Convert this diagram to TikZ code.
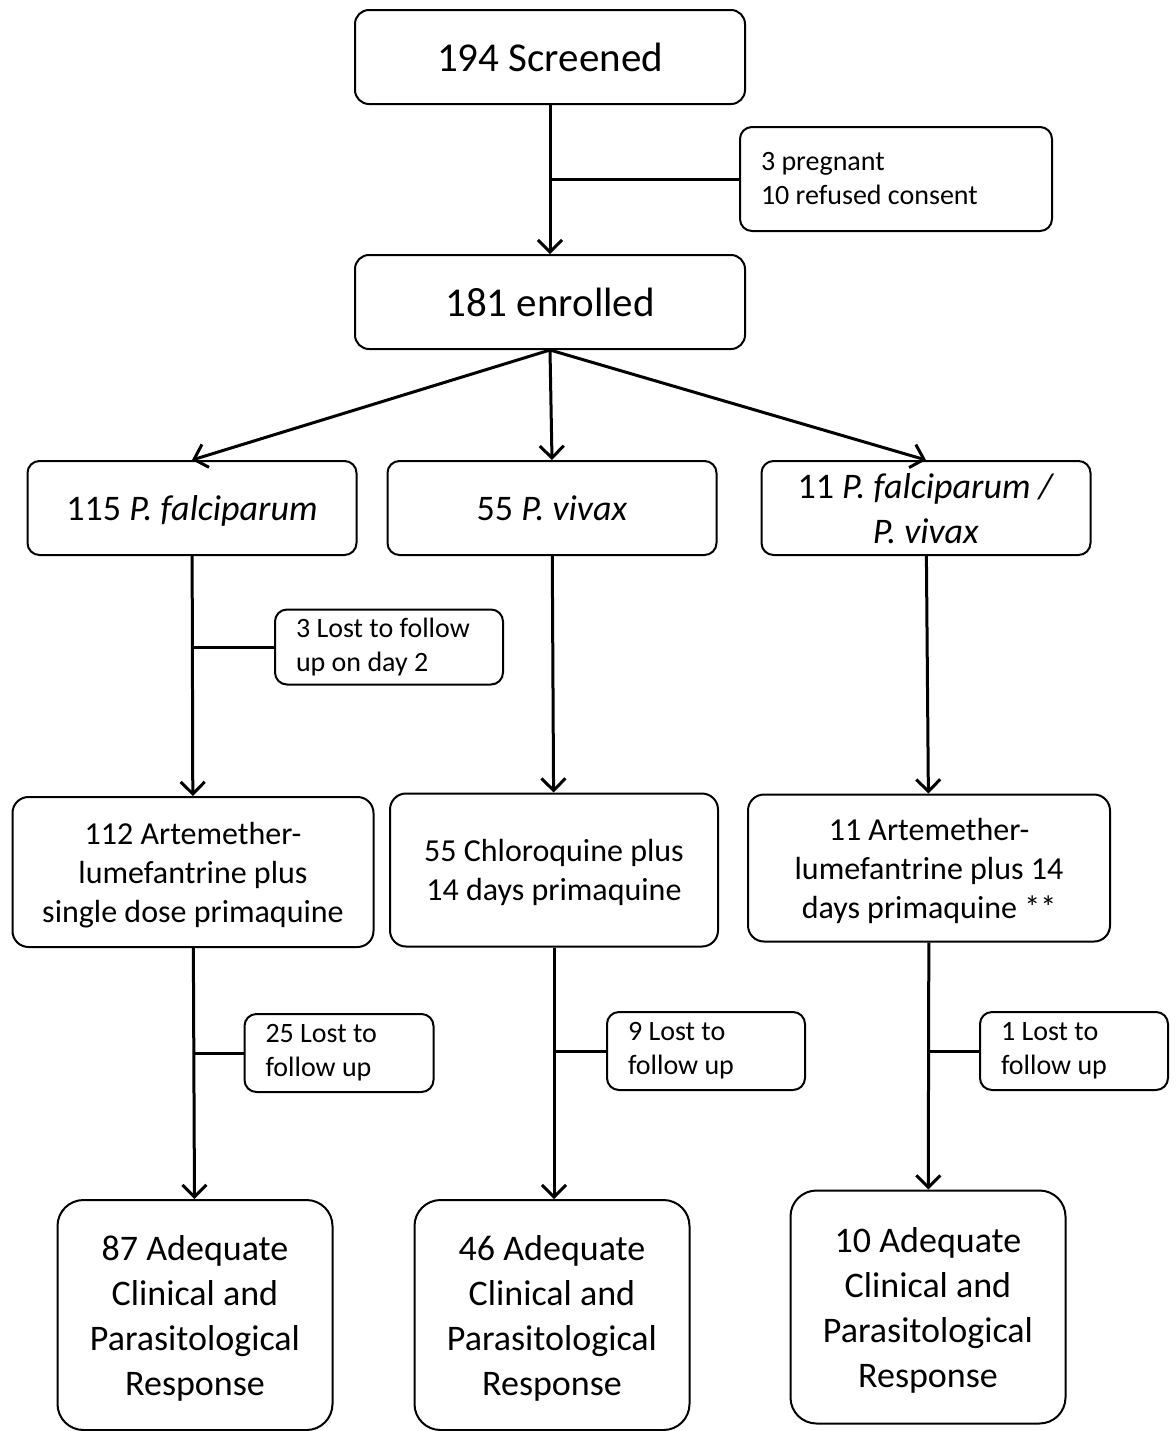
\documentclass[tikz,border=0pt]{standalone}
\usepackage{fontspec}
\setmainfont{Carlito}
\usetikzlibrary{arrows.meta}

\begin{document}
\begin{tikzpicture}[x=0.5pt,y=-0.5pt]
\tikzstyle{every node}=[draw, line width=1pt, align=center, inner sep=0pt]
\tikzstyle{headbox}=[rounded corners=7pt, minimum width=195pt, minimum height=47pt, font=\fontsize{20.5}{24}\selectfont]
\tikzstyle{armbox}=[rounded corners=6pt, minimum width=164.5pt, minimum height=47pt, text depth=0pt, font=\fontsize{18}{22.5}\selectfont]
\tikzstyle{treatbox}=[rounded corners=8pt, minimum height=75pt, text depth=0pt, font=\fontsize{16}{19.5}\selectfont]
\tikzstyle{outbox}=[rounded corners=13pt, minimum width=137.5pt, minimum height=115pt, text depth=0pt, font=\fontsize{18}{22.5}\selectfont]
\tikzstyle{sidebox}=[rounded corners=6pt, align=left, inner xsep=10.5pt, font=\fontsize{14}{17}\selectfont, execute at begin node={\spaceskip=0pt\xspaceskip=0pt\relax}]
\tikzstyle{flow}=[line width=1.5pt, -{Straight Barb[length=6pt,width=12pt]}]
\tikzstyle{link}=[line width=1.5pt]
\useasboundingbox (0,0) rectangle (1176,1431);

% top
\node[headbox] (screened) at (550,57) {194 Screened};
\node[sidebox, text width=135pt, minimum height=52pt] (refused) at (896,179) {3 pregnant\\10 refused consent};
\node[headbox] (enrolled) at (550,302) {181 enrolled};

% species
\node[armbox] (pf) at (192,508) {115 \textit{P. falciparum}};
\node[armbox] (pv) at (552,508) {55 \textit{P. vivax}};
\node[armbox] (mixed) at (926,508) {11 \textit{P. falciparum /}\\\textit{P. vivax}};
\node[sidebox, text width=93pt, minimum height=37.5pt] (lostpf) at (389,647) {3 Lost to follow\\up on day 2};

% treatment
\node[treatbox, minimum width=180.5pt] (al) at (193,872) {112 Artemether-\\lumefantrine plus\\single dose primaquine};
\node[treatbox, minimum width=164pt, minimum height=76.5pt] (cq) at (554,870) {55 Chloroquine plus\\14 days primaquine};
\node[treatbox, minimum width=181pt, minimum height=73.5pt] (alpq) at (929,868) {11 Artemether-\\lumefantrine plus 14\\days primaquine **};
\node[sidebox, text width=73.5pt, minimum height=39pt] (lostal) at (339,1053) {25 Lost to\\follow up};
\node[sidebox, text width=78pt, minimum height=39pt] (lostcq) at (706,1051) {9 Lost to\\follow up};
\node[sidebox, text width=73pt, minimum height=39pt] (lostalpq) at (1074,1051) {1 Lost to\\follow up};

% outcome
\node[outbox] (acpr1) at (195,1315) {87 Adequate\\Clinical and\\Parasitological\\Response};
\node[outbox] (acpr2) at (552,1315) {46 Adequate\\Clinical and\\Parasitological\\Response};
\node[outbox, minimum height=116.5pt] (acpr3) at (928,1307) {10 Adequate\\Clinical and\\Parasitological\\Response};

% connectors
\draw[flow] (screened) -- (enrolled);
\draw[link] (refused.west) -- (refused.west -| screened.south);
\draw[flow] (enrolled.south) -- (pf.north);
\draw[flow] (enrolled.south) -- (pv.north);
\draw[flow] (enrolled.south) -- (mixed.north);
\draw[flow] (pf) -- (al);
\draw[link] (lostpf.west) -- (lostpf.west -| pf.south);
\draw[flow] (pv) -- (cq);
\draw[flow] (mixed) -- (alpq);
\draw[flow] (al) -- (acpr1);
\draw[link] (lostal.west) -- (lostal.west -| al.south);
\draw[flow] (cq.south) -- (cq.south |- acpr2.north);
\draw[link] (lostcq.west) -- (lostcq.west -| cq.south);
\draw[flow] (alpq) -- (acpr3);
\draw[link] (lostalpq.west) -- (lostalpq.west -| alpq.south);

\end{tikzpicture}
\end{document}
